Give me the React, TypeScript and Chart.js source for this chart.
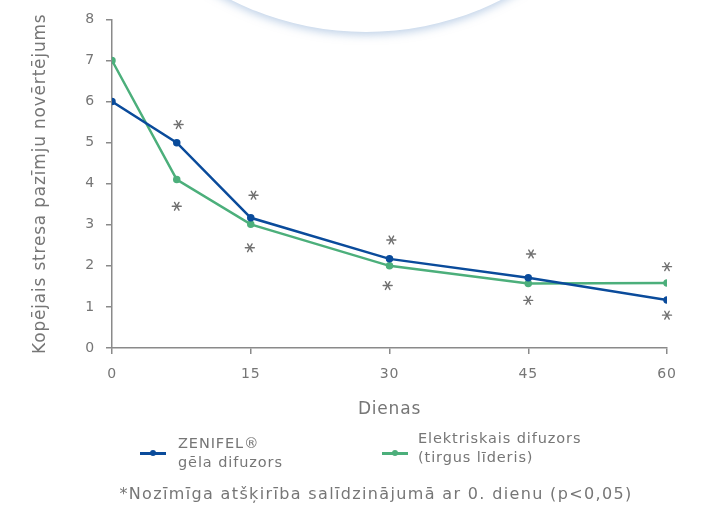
import React, { useEffect, useRef } from "react";
import { Chart, registerables } from "chart.js";

Chart.register(...registerables);

const days = [0, 7, 15, 30, 45, 60];
const zenifel = [6, 5, 3.17, 2.17, 1.71, 1.17];
const electric = [7, 4.1, 3.01, 2.0, 1.57, 1.58];
const starDays = [7.2, 7, 15.3, 14.9, 30.2, 29.8, 45.3, 45, 60, 60];
const starValues = [5.44, 3.45, 3.72, 2.44, 2.63, 1.52, 2.29, 1.16, 1.98, 0.8];
const xTicks = [0, 15, 30, 45, 60];
const yTicks = [0, 1, 2, 3, 4, 5, 6, 7, 8];

const seriesLabels = [["ZENIFEL®", "gēla difuzors"], ["Elektriskais difuzors", "(tirgus līderis)"]];
const yTitle = "Kopējais stresa pazīmju novērtējums";
const xTitle = "Dienas";
const footnote = "*Nozīmīga atšķirība salīdzinājumā ar 0. dienu (p<0,05)";

const BLUE = "#0a4b9b";
const GREEN = "#4caf7b";
const GRAY = "#767676";
const FONT = "'DejaVu Sans', sans-serif";

const spacingPlugin = {
  id: "spacing",
  beforeDraw(chart: any) {
    (chart.ctx as any).letterSpacing = "0.8px";
  },
};

const starPlugin = {
  id: "stars",
  afterDatasetsDraw(chart: any) {
    const ctx = chart.ctx;
    const xs = chart.scales.x;
    const ys = chart.scales.y;
    ctx.save();
    ctx.strokeStyle = "#707070";
    ctx.lineWidth = 1.4;
    ctx.lineCap = "round";
    const r = 4.5;
    starDays.forEach((d, i) => {
      const cx = xs.getPixelForValue(d);
      const cy = ys.getPixelForValue(starValues[i]);
      for (const a of [0, 60, -60]) {
        const rad = (a * Math.PI) / 180;
        ctx.beginPath();
        ctx.moveTo(cx - r * Math.cos(rad), cy - r * Math.sin(rad));
        ctx.lineTo(cx + r * Math.cos(rad), cy + r * Math.sin(rad));
        ctx.stroke();
      }
    });
    ctx.restore();
  },
};

export default function App() {
  const ref = useRef<HTMLCanvasElement | null>(null);

  useEffect(() => {
    if (!ref.current) return;
    const chart = new Chart(ref.current, {
      type: "line",
      data: {
        datasets: [
          {
            label: "ZENIFEL",
            data: days.map((d, i) => ({ x: d, y: zenifel[i] })),
            borderColor: BLUE,
            backgroundColor: BLUE,
            borderWidth: 2.5,
            pointRadius: 2.5,
            pointHoverRadius: 2.5,
            tension: 0,
          },
          {
            label: "Elektriskais",
            data: days.map((d, i) => ({ x: d, y: electric[i] })),
            borderColor: GREEN,
            backgroundColor: GREEN,
            borderWidth: 2.5,
            pointRadius: 2.5,
            pointHoverRadius: 2.5,
            tension: 0,
          },
        ],
      },
      options: {
        animation: false,
        responsive: false,
        maintainAspectRatio: false,
        layout: { padding: { left: 30, right: 35, top: 17, bottom: 88 } },
        plugins: { legend: { display: false }, tooltip: { enabled: false } },
        scales: {
          x: {
            type: "linear",
            min: 0,
            max: 60,
            afterBuildTicks: (s: any) => {
              s.ticks = xTicks.map((v) => ({ value: v }));
            },
            afterFit: (s: any) => {
              s.height = 72;
            },
            border: { color: "#8a8a8a", width: 1.5 },
            grid: { drawOnChartArea: false, tickLength: 6, color: "#8a8a8a", lineWidth: 1.5 },
            ticks: { color: GRAY, font: { family: FONT, size: 14 }, padding: 12, maxRotation: 0 },
            title: {
              display: true,
              text: xTitle,
              color: GRAY,
              font: { family: FONT, size: 17 },
              padding: { top: 0, bottom: 0 },
            },
          },
          y: {
            min: 0,
            max: 8,
            afterBuildTicks: (s: any) => {
              s.ticks = yTicks.map((v) => ({ value: v }));
            },
            afterFit: (s: any) => {
              s.width = 82;
            },
            border: { color: "#8a8a8a", width: 1.5 },
            grid: { drawOnChartArea: false, tickLength: 6, color: "#8a8a8a", lineWidth: 1.5 },
            ticks: { color: GRAY, font: { family: FONT, size: 14 }, padding: 11 },
            title: {
              display: true,
              text: yTitle,
              color: GRAY,
              font: { family: FONT, size: 17 },
              padding: 0,
            },
          },
        },
      },
      plugins: [spacingPlugin, starPlugin],
    });
    return () => chart.destroy();
  }, []);

  const textStyle: React.CSSProperties = {
    fontFamily: FONT,
    color: GRAY,
    fontSize: 14.5,
    lineHeight: "19px",
    letterSpacing: "0.9px",
    position: "absolute",
    whiteSpace: "nowrap",
  };

  const marker = (color: string, left: number, top: number) => (
    <div style={{ position: "absolute", left, top, width: 26, height: 8 }}>
      <div style={{ position: "absolute", left: 0, top: 3, width: 26, height: 2.5, background: color }} />
      <div style={{ position: "absolute", left: 10, top: 1, width: 6, height: 6, borderRadius: 3, background: color }} />
    </div>
  );

  return (
    <div style={{ position: "fixed", left: 0, top: 0, width: 702, height: 508, background: "#fff", overflow: "hidden" }}>
      <div
        style={{
          position: "absolute",
          left: 366 - 300,
          top: 32 - 600,
          width: 600,
          height: 600,
          borderRadius: "50%",
          background: "#fff",
          boxShadow: "0 3px 8px rgba(130,165,210,0.5)",
        }}
      />
      <canvas ref={ref} width={702} height={508} style={{ position: "absolute", left: 0, top: 0, width: 702, height: 508 }} />
      {marker(BLUE, 140, 449)}
      <div style={{ ...textStyle, left: 178, top: 434 }}>
        {seriesLabels[0][0]}
        <br />
        {seriesLabels[0][1]}
      </div>
      {marker(GREEN, 382, 449)}
      <div style={{ ...textStyle, left: 418, top: 429 }}>
        {seriesLabels[1][0]}
        <br />
        {seriesLabels[1][1]}
      </div>
      <div style={{ ...textStyle, left: 0, width: 752, top: 484, fontSize: 16, letterSpacing: "1.35px", textAlign: "center" }}>
        {footnote}
      </div>
    </div>
  );
}
